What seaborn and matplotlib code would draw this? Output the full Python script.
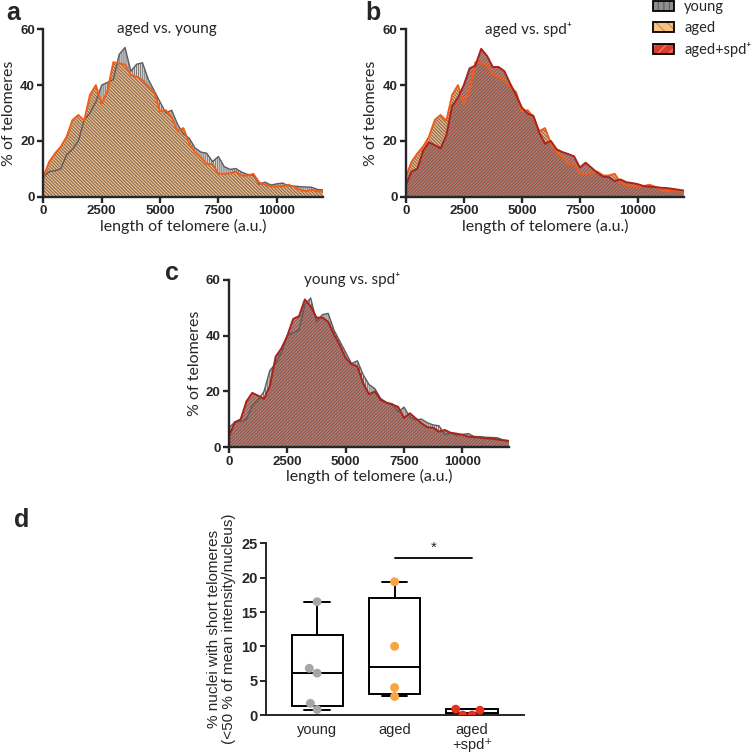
import matplotlib
matplotlib.use('Agg')
import matplotlib.pyplot as plt
from matplotlib.patches import Patch
import seaborn as sns
import numpy as np
import pandas as pd

# telomere length histograms (% of telomeres per 250 a.u. bin)
length_bins = np.arange(0, 12001, 250)
young_pct = [7, 9, 9.3, 10, 15, 17, 20, 27.5, 30, 34, 40, 41, 42, 51, 53.5, 45,
             47.5, 48, 42, 38, 34, 30, 31, 26, 22.5, 21, 17.5, 16, 15.6, 12.6, 14.4,
             10.8, 9.8, 10.1, 8.8, 8, 7.7, 4.5, 5.2, 4.2, 4.6, 4.9, 3.9, 3.8, 3.6,
             3.5, 3.4, 2.6, 2.4]
aged_pct = [7, 12.5, 15.5, 18, 21.5, 27.5, 29.3, 27.3, 36.5, 40, 33.3, 38, 48.2,
            47.8, 47.3, 43.6, 43, 41.8, 39.5, 37.5, 30.6, 31, 28.5, 23.5, 24.6,
            19.2, 16, 14.1, 11.7, 11.7, 8.2, 8.2, 8.4, 9, 7.6, 7.6, 8.2, 5.1, 4.3,
            3.7, 3.7, 3.8, 4.3, 3.5, 2.5, 1.9, 2.5, 1.9, 1.9]
spd_pct = [4, 9, 10, 16.5, 19.5, 18.5, 17.3, 22, 32.5, 35.5, 40, 46, 47, 53, 50.5,
           46.5, 46.5, 45, 40.5, 36.5, 32, 29.8, 29, 23, 19, 20, 17, 16, 15.3, 14.5,
           10.5, 12.2, 10.4, 8.6, 7.2, 7, 5.6, 6.2, 5.2, 4.9, 4.5, 3.8, 3.6, 3.5,
           3.2, 3.1, 2.8, 2.5, 2.2]

# panel d: % nuclei with short telomeres
groups = ['young', 'aged', 'aged\n+spd⁺']
young_short = [16.5, 6.8, 6.1, 1.7, 0.8]
aged_short = [19.4, 10.0, 4.0, 2.7]
spd_short = [0.85, 0.0, 0.0, 0.7]

sns.set_style('ticks')
plt.rcParams['font.family'] = ['Liberation Sans', 'DejaVu Sans']
plt.rcParams['hatch.linewidth'] = 0.8
LBL = ['Lato', 'DejaVu Sans']

fig = plt.figure(figsize=(7.55, 7.54), dpi=100)
ax_a = fig.add_axes([0.0574, 0.7391, 0.3709, 0.2220])
ax_b = fig.add_axes([0.5374, 0.7391, 0.3690, 0.2220])
ax_c = fig.add_axes([0.3033, 0.4068, 0.3709, 0.2220])
ax_d = fig.add_axes([0.3523, 0.0517, 0.3417, 0.2277])

styles = {
    'young': dict(face='#e2e2e2', hatch_col='#7a7a7a', hatch='||||||||', line='#5c5c5c', lw=1.0),
    'aged': dict(face='#f2bd86', hatch_col='#806b5b', hatch='\\' * 10, line='#f25c19', lw=1.4),
    'spd': dict(face=(0.82, 0.42, 0.34, 0.85), hatch_col='#6f6566', hatch='/' * 10, line='#a8231a', lw=1.4),
}
series = {'young': young_pct, 'aged': aged_pct, 'spd': spd_pct}


def draw_series(ax, key, z):
    st = styles[key]
    ax.fill_between(length_bins, series[key], 0, facecolor=st['face'], edgecolor=st['hatch_col'],
                    hatch=st['hatch'], linewidth=0, zorder=z)
    sns.lineplot(x=length_bins, y=series[key], ax=ax, color=st['line'], linewidth=st['lw'], zorder=z + 5)


def bold_ticks(ax, size=9.5):
    for t in ax.get_xticklabels() + ax.get_yticklabels():
        t.set_fontweight('bold')
        t.set_fontsize(size)


def style_hist(ax, title):
    ax.set_xlim(0, 12000)
    ax.set_ylim(0, 60)
    ax.set_xticks([0, 2500, 5000, 7500, 10000])
    ax.set_yticks([0, 20, 40, 60])
    sns.despine(ax=ax)
    for s in ['left', 'bottom']:
        ax.spines[s].set_linewidth(1.7)
        ax.spines[s].set_zorder(20)
    ax.tick_params(width=1.7, length=4, pad=2)
    bold_ticks(ax)
    ax.set_xlabel('length of telomere (a.u.)', fontsize=11.5, family=LBL, labelpad=1)
    ax.set_ylabel('% of telomeres', fontsize=11.5, family=LBL, labelpad=3)
    ax.text(0.44, 1.0, title, transform=ax.transAxes, ha='center', va='center',
            fontsize=11, family=LBL)


draw_series(ax_a, 'young', 1)
draw_series(ax_a, 'aged', 2)
style_hist(ax_a, 'aged vs. young')

draw_series(ax_b, 'aged', 1)
draw_series(ax_b, 'spd', 2)
style_hist(ax_b, 'aged vs. spd⁺')

draw_series(ax_c, 'young', 1)
draw_series(ax_c, 'spd', 2)
style_hist(ax_c, 'young vs. spd⁺')

# legend
leg_styles = [
    ('young', '#8e8e8e', '#5a5a5a', '|||'),
    ('aged', '#f8c283', '#c98d4f', '\\\\\\'),
    ('aged+spd⁺', '#dd3d28', '#f08a78', '///'),
]
handles = [(Patch(facecolor=f, edgecolor=h, hatch=ht, linewidth=0),
            Patch(facecolor='none', edgecolor='black', linewidth=1.3)) for _, f, h, ht in leg_styles]
fig.legend(handles, [l for l, *_ in leg_styles], loc='upper left', bbox_to_anchor=(0.855, 1.01),
           frameon=False, borderpad=0, handlelength=1.45, handleheight=0.7, labelspacing=0.5,
           handletextpad=0.7, prop={'family': LBL, 'size': 10.5})

# panel d
def box_stats(vals):
    v = np.asarray(vals, dtype=float)
    q1, med, q3 = np.percentile(v, [25, 50, 75], method='weibull')
    return dict(med=med, q1=q1, q3=q3, whislo=v.min(), whishi=v.max(), fliers=[])

ax_d.bxp([box_stats(young_short), box_stats(aged_short), box_stats(spd_short)],
         positions=[0, 1, 2], widths=0.66, showfliers=False, patch_artist=True,
         boxprops=dict(facecolor='white', edgecolor='black', linewidth=1.4),
         medianprops=dict(color='black', linewidth=1.4),
         whiskerprops=dict(color='black', linewidth=1.4),
         capprops=dict(color='black', linewidth=1.4))

short_df = pd.DataFrame({
    'group': [groups[0]] * len(young_short) + [groups[1]] * len(aged_short) + [groups[2]] * len(spd_short),
    'value': young_short + aged_short + spd_short,
})
sns.swarmplot(data=short_df, x='group', y='value', hue='group', order=groups,
              palette=['#a6a6a6', '#f9a443', '#e5311f'], size=6.4, linewidth=0,
              legend=False, ax=ax_d, zorder=5)

ax_d.set_xlim(-0.66, 2.67)
ax_d.set_ylim(0, 25)
ax_d.set_yticks([0, 5, 10, 15, 20, 25])
ax_d.set_xticks([0, 1, 2])
ax_d.set_xticklabels(groups, fontsize=10.5, linespacing=1.05)
sns.despine(ax=ax_d)
for s in ['left', 'bottom']:
    ax_d.spines[s].set_linewidth(1.4)
ax_d.tick_params(axis='y', width=1.4, length=4, pad=2)
ax_d.tick_params(axis='x', length=0, pad=6)
for t in ax_d.get_yticklabels():
    t.set_fontweight('bold')
    t.set_fontsize(10.5)
ax_d.set_xlabel('')
ax_d.set_ylabel('% nuclei with short telomeres\n(<50 % of mean intensity/nucleus)', fontsize=11,
                linespacing=1.1, labelpad=4)
ax_d.plot([1, 2], [22.8, 22.8], color='black', linewidth=1.3)
ax_d.text(1.5, 23.3, '*', ha='center', va='bottom', fontsize=11)

# panel letters
for lbl, x, y in [('a', 0.008, 0.9735), ('b', 0.484, 0.9735), ('c', 0.219, 0.6286), ('d', 0.018, 0.301)]:
    fig.text(x, y, lbl, fontsize=18, fontweight='bold', ha='left', va='baseline')

fig.savefig('out.png', dpi=100)
plt.close(fig)
